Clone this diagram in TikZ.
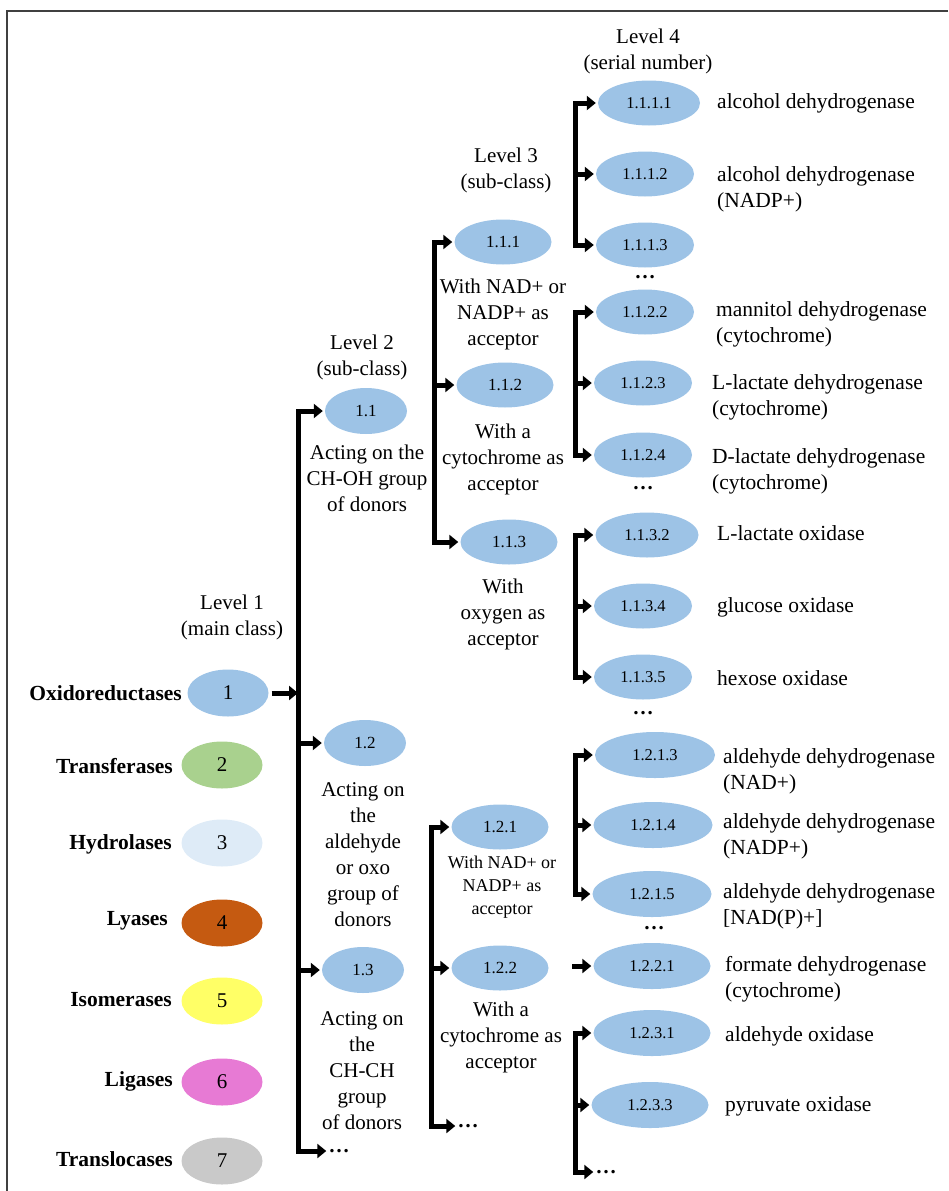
\documentclass[tikz,border=0pt]{standalone}
\usepackage{fontspec}
\setmainfont{Liberation Serif}
\usetikzlibrary{shapes.geometric, arrows.meta, calc}
\definecolor{cBlue}{HTML}{9DC3E6}
\definecolor{cGreen}{HTML}{A9D18E}
\definecolor{cPale}{HTML}{DEEBF7}
\definecolor{cOrange}{HTML}{C55A11}
\definecolor{cYellow}{HTML}{FFFF66}
\definecolor{cPink}{HTML}{E77AD4}
\definecolor{cGrey}{HTML}{C9C9C9}
\definecolor{cFrame}{HTML}{404040}
\begin{document}
\begin{tikzpicture}[x=1pt, y=-1pt,
  frame/.style={draw=cFrame, line width=1.8pt},
  oval/.style={ellipse, inner sep=0pt, text=black},
  e1/.style={oval, minimum width=81pt, minimum height=47pt, font=\fontsize{21}{25}\selectfont},
  e2/.style={oval, fill=cBlue, minimum width=82pt, minimum height=46pt, font=\fontsize{17}{20}\selectfont},
  e3/.style={oval, fill=cBlue, minimum width=97pt, minimum height=45pt, font=\fontsize{17}{20}\selectfont},
  e4/.style={oval, fill=cBlue, minimum width=98pt, minimum height=45pt, font=\fontsize{16.5}{20}\selectfont},
  e4w/.style={e4, minimum width=117pt, minimum height=46pt},
  hd/.style={align=center, inner sep=0pt, font=\fontsize{21}{26}\selectfont},
  txt/.style={align=center, inner sep=0pt, font=\fontsize{21}{26}\selectfont},
  txtsm/.style={align=center, inner sep=0pt, font=\fontsize{18}{23}\selectfont},
  cls/.style={anchor=east, inner sep=0pt, font=\fontsize{21.5}{26}\selectfont\bfseries},
  lab/.style={anchor=west, align=left, inner sep=0pt, font=\fontsize{21.5}{26}\selectfont},
  dots/.style={inner sep=0pt, font=\fontsize{21}{26}\selectfont\bfseries},
  tip/.tip={Triangle[length=9pt, width=14pt]},
  arr/.style={line width=5pt, -tip, shorten >=2pt},
  both/.style={line width=5pt, tip-tip, shorten >=2pt, shorten <=2pt, line join=miter}
]
\useasboundingbox (0,0) rectangle (948,1191);
\draw[frame] (948,11) -- (7,11) -- (7,1191);

% column headings
\node[hd] (h1) at (232,617) {Level 1\\(main class)};
\node[hd] (h2) at (362,357) {Level 2\\(sub-class)};
\node[hd] (h3) at (506,170) {Level 3\\(sub-class)};
\node[hd] (h4) at (648,51) {Level 4\\(serial number)};

% level 1: main classes
\node[e1, fill=cBlue]   (c1) at (228,693)  {1};
\node[e1, fill=cGreen]  (c2) at (222,765)  {2};
\node[e1, fill=cPale]   (c3) at (222,843)  {3};
\node[e1, fill=cOrange] (c4) at (222,923)  {4};
\node[e1, fill=cYellow] (c5) at (222,1001) {5};
\node[e1, fill=cPink]   (c6) at (222,1082) {6};
\node[e1, fill=cGrey]   (c7) at (222,1161) {7};
\node[cls] (l1) at (182,693)  {Oxidoreductases};
\node[cls] (l2) at (173,766)  {Transferases};
\node[cls] (l3) at (172,844)  {Hydrolases};
\node[cls] (l4) at (168,921)  {Lyases};
\node[cls] (l5) at (172,1000) {Isomerases};
\node[cls] (l6) at (173,1081) {Ligases};
\node[cls] (l7) at (173,1159) {Translocases};

% level 2
\coordinate (t2) at (298,0);
\node[e2] (n11) at (366,411) {1.1};
\node[txt] (d11) at (367,478) {Acting on the\\CH-OH group\\of donors};
\node[e2] (n12) at (365,743) {1.2};
\node[txt] (d12) at (363,855) {Acting on\\the\\aldehyde\\or oxo\\group of\\donors};
\node[e2] (n13) at (363,970) {1.3};
\node[txt] (d13) at (362,1071) {Acting on\\the\\CH-CH\\group\\of donors};
\node[dots] (x2) at (339,1151) {…};
\draw[arr, shorten >=0pt] (c1.east) ++(3,0) -- (c1.east -| t2);
\draw[both] (n11.west) -- (n11.west -| t2) -- (x2.west -| t2) -- (x2.west);
\draw[arr] (n12.west -| t2) -- (n12.west);
\draw[arr] (n13.west -| t2) -- (n13.west);

% level 3 under 1.1
\coordinate (t3a) at (434,0);
\node[e3] (n111) at (503,242) {1.1.1};
\node[txt] (d111) at (503,314) {With NAD+ or\\NADP+ as\\acceptor};
\node[e3] (n112) at (505,385) {1.1.2};
\node[txt] (d112) at (503,459) {With a\\cytochrome as\\acceptor};
\node[e3] (n113) at (509,542) {1.1.3};
\node[txt] (d113) at (503,614) {With\\oxygen as\\acceptor};
\draw[both] (n111.west) -- (n111.west -| t3a) -- (n113.west -| t3a) -- (n113.west);
\draw[arr] (n112.west -| t3a) -- (n112.west);

% level 3 under 1.2
\coordinate (t3b) at (431,0);
\node[e3] (n121) at (500,827) {1.2.1};
\node[txtsm] (d121) at (502,887) {With NAD+ or\\NADP+ as\\acceptor};
\node[e3] (n122) at (500,968) {1.2.2};
\node[txt] (d122) at (501,1037) {With a\\cytochrome as\\acceptor};
\node[dots] (x3) at (468,1126) {…};
\draw[both] (n121.west) -- (n121.west -| t3b) -- (x3.west -| t3b) -- (x3.west);
\draw[arr] (n122.west -| t3b) -- (n122.west);

% level 4
\coordinate (t4) at (575,0);
% under 1.1.1
\node[e4, minimum width=102pt] (n1111) at (649,103) {1.1.1.1};
\node[e4] (n1112) at (645,174) {1.1.1.2};
\node[e4] (n1113) at (645,245) {1.1.1.3};
\node[dots] (x1113) at (645,277) {…};
\node[lab] (m1111) at (717,103) {alcohol dehydrogenase};
\node[lab] (m1112) at (717,189) {alcohol dehydrogenase\\(NADP+)};
\draw[both] (n1111.west) -- (n1111.west -| t4) -- (n1113.west -| t4) -- (n1113.west);
\draw[arr] (n1112.west -| t4) -- (n1112.west);

% under 1.1.2
\node[e4] (n1122) at (645,312) {1.1.2.2};
\node[e4] (n1123) at (643,383) {1.1.2.3};
\node[e4] (n1124) at (643,455) {1.1.2.4};
\node[dots] (x1124) at (643,488) {…};
\node[lab] (m1122) at (716,324) {mannitol dehydrogenase\\(cytochrome)};
\node[lab] (m1123) at (712,397) {L-lactate dehydrogenase\\(cytochrome)};
\node[lab] (m1124) at (712,471) {D-lactate dehydrogenase\\(cytochrome)};
\draw[both] (n1122.west) -- (n1122.west -| t4) -- (n1124.west -| t4) -- (n1124.west);
\draw[arr] (n1123.west -| t4) -- (n1123.west);

% under 1.1.3
\node[e4, minimum width=103pt] (n1132) at (647,535) {1.1.3.2};
\node[e4] (n1134) at (643,606) {1.1.3.4};
\node[e4] (n1135) at (643,677) {1.1.3.5};
\node[dots] (x1135) at (643,713) {…};
\node[lab] (m1132) at (717,533) {L-lactate oxidase};
\node[lab] (m1134) at (717,607) {glucose oxidase};
\node[lab] (m1135) at (717,678) {hexose oxidase};
\draw[both] (n1132.west) -- (n1132.west -| t4) -- (n1135.west -| t4) -- (n1135.west);
\draw[arr] (n1134.west -| t4) -- (n1134.west);

% under 1.2.1
\node[e4w, minimum width=120pt] (n1213) at (655,755) {1.2.1.3};
\node[e4w, minimum width=119pt] (n1214) at (653,825) {1.2.1.4};
\node[e4w, minimum width=119pt] (n1215) at (652,894) {1.2.1.5};
\node[dots] (x1215) at (654,928) {…};
\node[lab] (m1213) at (723,771) {aldehyde dehydrogenase\\(NAD+)};
\node[lab] (m1214) at (723,836) {aldehyde dehydrogenase\\(NADP+)};
\node[lab] (m1215) at (723,906) {aldehyde dehydrogenase\\{[NAD(P)+]}};
\draw[both] (n1213.west) -- (n1213.west -| t4) -- (n1215.west -| t4) -- (n1215.west);
\draw[arr] (n1214.west -| t4) -- (n1214.west);

% under 1.2.2
\node[e4w] (n1221) at (652,966) {1.2.2.1};
\coordinate (s1221) at (572,966);
\node[lab] (m1221) at (725,979) {formate dehydrogenase\\(cytochrome)};
\draw[arr] (s1221) -- (n1221.west);

% under 1.2.3
\node[e4w] (n1231) at (652,1033) {1.2.3.1};
\node[e4w] (n1233) at (650,1105) {1.2.3.3};
\node[dots] (x1233) at (606,1172) {…};
\node[lab] (m1231) at (725,1036) {aldehyde oxidase};
\node[lab] (m1233) at (725,1106) {pyruvate oxidase};
\draw[both] (n1231.west) -- (n1231.west -| t4) -- (x1233.west -| t4) -- (x1233.west);
\draw[arr] (n1233.west -| t4) -- (n1233.west);
\end{tikzpicture}
\end{document}
